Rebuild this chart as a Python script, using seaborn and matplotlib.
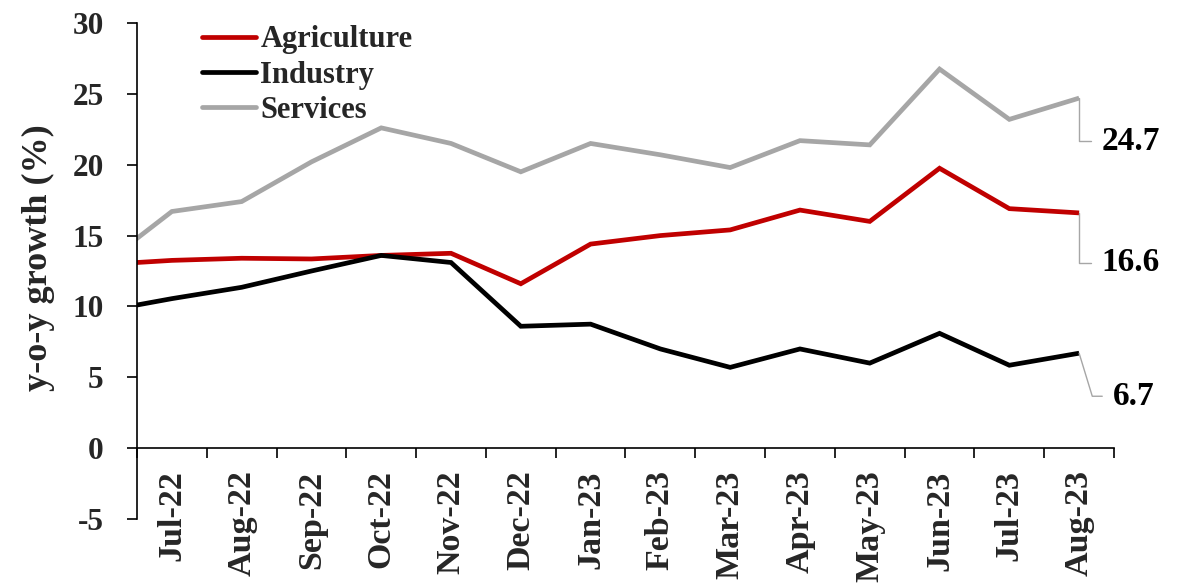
import numpy as np
import pandas as pd
import matplotlib
matplotlib.use("Agg")
import matplotlib.pyplot as plt
import seaborn as sns

# Monthly y-o-y growth by sector; the first month sits just off the left edge
months = ["Jun-22", "Jul-22", "Aug-22", "Sep-22", "Oct-22", "Nov-22", "Dec-22",
          "Jan-23", "Feb-23", "Mar-23", "Apr-23", "May-23", "Jun-23",
          "Jul-23", "Aug-23"]
agriculture = [12.95, 13.25, 13.4, 13.35, 13.6, 13.75, 11.6, 14.4, 15.0,
               15.4, 16.8, 16.0, 19.75, 16.9, 16.6]
industry = [9.65, 10.55, 11.35, 12.5, 13.6, 13.1, 8.6, 8.75, 7.0,
            5.7, 7.0, 6.0, 8.1, 5.85, 6.7]
services = [12.9, 16.7, 17.4, 20.2, 22.6, 21.5, 19.5, 21.5, 20.7,
            19.8, 21.7, 21.4, 26.75, 23.2, 24.7]

series = {"Agriculture": agriculture, "Industry": industry, "Services": services}
colors = {"Agriculture": "#C00000", "Industry": "#000000", "Services": "#A6A6A6"}

sns.set_theme(style="white")
plt.rcParams["font.family"] = ["Liberation Serif", "DejaVu Serif"]
plt.rcParams["font.weight"] = "bold"
plt.rcParams["axes.unicode_minus"] = False

pos = np.arange(len(months)) - 1  # Jul-22 at 0
df = pd.concat([pd.DataFrame({"pos": pos, "value": v, "sector": k})
                for k, v in series.items()], ignore_index=True)

fig = plt.figure(figsize=(11.86, 5.84), dpi=100)
ax = fig.add_axes([0.1155, 0.1113, 0.8238, 0.8493])

sns.lineplot(data=df, x="pos", y="value", hue="sector", palette=colors,
             linewidth=3.4, sort=False, ax=ax, legend=False)
for line in ax.get_lines():
    line.set_solid_joinstyle("miter")
    line.set_solid_capstyle("butt")

ax.set_xlim(-0.5, len(months) - 1.5)
ax.set_ylim(-5, 30)
ax.set_yticks(np.arange(-5, 31, 5))

# Axes: x axis crosses at zero, ticks between categories
for s in ("top", "right"):
    ax.spines[s].set_visible(False)
ax.spines["bottom"].set_position(("data", 0))
for s in ("left", "bottom"):
    ax.spines[s].set_color("black")
    ax.spines[s].set_linewidth(1.2)

shown = months[1:]
ax.set_xticks(np.arange(len(shown)))
ax.set_xticklabels(shown, rotation=90, fontsize=24.5, fontweight="bold")
ax.set_xticks(np.arange(len(shown) + 1) - 0.5, minor=True)
ax.tick_params(axis="x", which="major", length=0, pad=16)
ax.tick_params(axis="x", which="minor", length=7, width=1.2, direction="out",
               color="black", bottom=True)
ax.tick_params(axis="y", length=7, width=1.2, direction="out", color="black",
               left=True, pad=17, labelsize=22.5)
for t in ax.get_yticklabels():
    t.set_fontweight("bold")
ax.set_xlabel("")
ax.set_ylabel("y-o-y growth (%)", fontsize=26, fontweight="bold")
ax.yaxis.set_label_coords(-0.084, 0.526)
ax.grid(False)

# Legend
handles = [plt.Line2D([], [], color=colors[k], linewidth=3.4) for k in series]
ax.legend(handles, list(series.keys()), loc="upper left",
          bbox_to_anchor=(0.067, 0.995), frameon=False,
          handlelength=1.75, handletextpad=0.15, labelspacing=0.2,
          borderpad=0, borderaxespad=0,
          prop={"weight": "bold", "size": 22})

# End-of-period value labels with leader lines
last = len(months) - 2
label_specs = {
    "Services": ((16, -31), 90),
    "Agriculture": ((16, -36), 90),
    "Industry": ((24, -31), -73),
}
for k, (offset, angle_b) in label_specs.items():
    val = series[k][-1]
    ax.annotate(f"{val:.1f}", xy=(last, val), xytext=offset,
                textcoords="offset points", ha="left", va="center",
                fontsize=24, fontweight="bold", color="black",
                annotation_clip=False,
                arrowprops=dict(arrowstyle="-", color="#A6A6A6", lw=1.0,
                                shrinkA=5, shrinkB=0, relpos=(0, 0.5),
                                connectionstyle=f"angle,angleA=0,angleB={angle_b},rad=0"))

fig.savefig("out.png", dpi=100)
